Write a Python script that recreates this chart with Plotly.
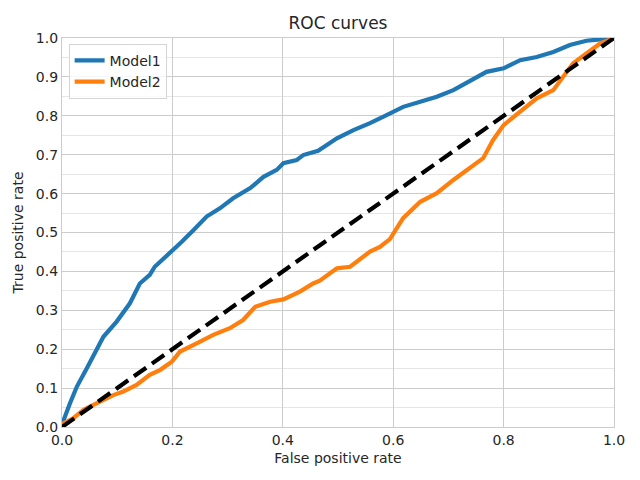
import plotly.graph_objects as go

# Model1 ROC points (false positive rate, true positive rate)
fpr1 = [0.0, 0.002, 0.0145, 0.027, 0.045, 0.063, 0.075, 0.099, 0.123, 0.141, 0.159, 0.168,
        0.196, 0.217, 0.238, 0.262, 0.286, 0.310, 0.341, 0.365, 0.389, 0.401, 0.425, 0.437,
        0.464, 0.498, 0.528, 0.558, 0.588, 0.618, 0.649, 0.679, 0.709, 0.739, 0.769, 0.800,
        0.830, 0.860, 0.890, 0.920, 0.950, 0.981, 1.0]
tpr1 = [0.0, 0.014, 0.061, 0.104, 0.151, 0.198, 0.232, 0.271, 0.318, 0.369, 0.391, 0.412,
        0.447, 0.476, 0.506, 0.541, 0.562, 0.588, 0.614, 0.643, 0.661, 0.678, 0.686, 0.699,
        0.710, 0.742, 0.763, 0.781, 0.802, 0.823, 0.836, 0.849, 0.866, 0.888, 0.913, 0.922,
        0.943, 0.951, 0.964, 0.982, 0.993, 0.997, 1.0]

# Model2 ROC points
fpr2 = [0.0, 0.002, 0.020, 0.039, 0.057, 0.075, 0.093, 0.111, 0.135, 0.159, 0.178, 0.199,
        0.214, 0.244, 0.274, 0.304, 0.328, 0.350, 0.377, 0.401, 0.431, 0.455, 0.467, 0.498,
        0.522, 0.558, 0.576, 0.594, 0.618, 0.649, 0.679, 0.709, 0.739, 0.763, 0.781, 0.800,
        0.830, 0.860, 0.890, 0.908, 0.926, 0.950, 0.975, 1.0]
tpr2 = [0.0, 0.009, 0.022, 0.044, 0.057, 0.069, 0.082, 0.091, 0.108, 0.134, 0.147, 0.168,
        0.194, 0.215, 0.237, 0.254, 0.275, 0.309, 0.322, 0.328, 0.348, 0.369, 0.376, 0.408,
        0.412, 0.451, 0.463, 0.483, 0.537, 0.579, 0.601, 0.635, 0.665, 0.691, 0.738, 0.776,
        0.811, 0.845, 0.866, 0.900, 0.935, 0.960, 0.986, 1.0]

# chance diagonal
diag_x = [0.0, 1.0]
diag_y = [0.0, 1.0]

x_ticks = [0.0, 0.2, 0.4, 0.6, 0.8, 1.0]
y_ticks = [0.0, 0.1, 0.2, 0.3, 0.4, 0.5, 0.6, 0.7, 0.8, 0.9, 1.0]

FONT = "DejaVu Sans"
TXT = "#262626"

fig = go.Figure()
fig.add_trace(go.Scatter(x=fpr1, y=tpr1, mode="lines", name="Model1",
                         line=dict(color="#1f77b4", width=4.2)))
fig.add_trace(go.Scatter(x=fpr2, y=tpr2, mode="lines", name="Model2",
                         line=dict(color="#ff7f0e", width=4.2)))
fig.add_trace(go.Scatter(x=diag_x, y=diag_y, mode="lines", showlegend=False,
                         line=dict(color="black", width=4.2, dash="15px,7px")))

fig.update_layout(
    width=640, height=480,
    margin=dict(l=62, r=26, t=38, b=53),
    paper_bgcolor="white", plot_bgcolor="white",
    font=dict(family=FONT, color=TXT, size=14),
    title=dict(text="ROC curves", x=0.5, xref="paper", y=1 - 23 / 480, yanchor="middle",
               font=dict(family=FONT, size=17, color=TXT)),
    legend=dict(x=0.012, y=0.985, xanchor="left", yanchor="top",
                bgcolor="rgba(255,255,255,0.8)", bordercolor="#d5d5d5", borderwidth=1,
                font=dict(family=FONT, size=14, color=TXT), tracegroupgap=0),
    showlegend=True,
)
fig.update_xaxes(range=[0, 1], tickvals=x_ticks, ticktext=[f"{v:.1f}" for v in x_ticks],
                 showgrid=True, gridcolor="#cccccc", gridwidth=1,
                 showline=True, linecolor="#cccccc", linewidth=1.2, mirror=True,
                 zeroline=False, ticks="", tickfont=dict(size=14, color=TXT),
                 title=dict(text="False positive rate", font=dict(size=14, color=TXT), standoff=6))
fig.update_yaxes(range=[0, 1], tickvals=y_ticks, ticktext=[f"{v:.1f}" for v in y_ticks],
                 showgrid=True, gridcolor="#cccccc", gridwidth=1,
                 minor=dict(dtick=0.05, showgrid=True, gridcolor="#e6e6e6", gridwidth=1),
                 showline=True, linecolor="#cccccc", linewidth=1.2, mirror=True,
                 zeroline=False, ticks="", tickfont=dict(size=14, color=TXT),
                 title=dict(text="True positive rate", font=dict(size=14, color=TXT), standoff=8))

fig.write_html("out.html", config={"displayModeBar": False},
               post_script="document.body.style.margin='0';")
